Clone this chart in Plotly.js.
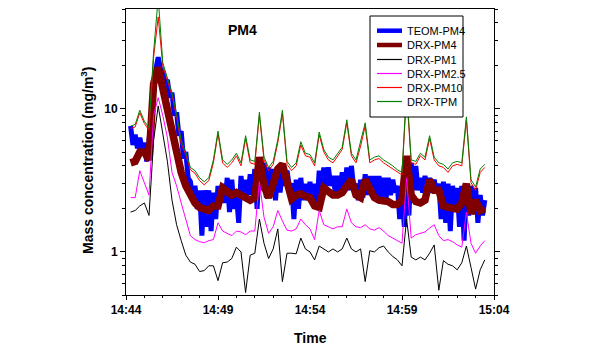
<!DOCTYPE html>
<html>
<head>
<meta charset="utf-8">
<script src="https://cdn.plot.ly/plotly-3.0.1.min.js"></script>
<style>
  html, body { margin: 0; padding: 0; background: #ffffff; }
  #chart { width: 613px; height: 352px; }
</style>
</head>
<body>
<div id="chart"></div>
<script>
// ---- Data ----
// DRX samples every 15 s, TEOM samples every 7.5 s, both starting 14:44:15
const sampleStart = '14:44:15';
const drxStepSeconds = 15;
const teomStepSeconds = 7.5;

const seriesNames = ['TEOM-PM4', 'DRX-PM4', 'DRX-PM1', 'DRX-PM2.5', 'DRX-PM10', 'DRX-TPM'];

const teomPM4 = [
  7.6, 5.6, 6.6, 5.3, 6.3, 5.2, 5.8, 4.3, 6.0, 9.0, 14, 19, 23, 19, 18, 15,
  16, 12, 13, 9.0, 9.5, 6.5, 7.0, 4.5, 5.0, 3.3, 3.1, 2.4, 2.9, 2.0, 2.7, 1.3,
  2.7, 1.5, 2.7, 1.4, 2.6, 1.7, 2.9, 2.2, 3.0, 2.2, 3.3, 1.9, 3.2, 2.0, 2.5, 1.6,
  3.4, 2.4, 3.2, 2.5, 3.5, 2.5, 3.8, 2.0, 4.2, 2.7, 4.2, 2.4, 3.9, 2.7, 3.8, 2.3,
  3.7, 2.6, 3.7, 2.9, 3.7, 2.9, 3.0, 1.7, 3.2, 2.0, 3.3, 2.3, 3.0, 2.3, 3.1, 2.2,
  3.0, 2.1, 3.7, 2.7, 3.9, 2.9, 3.9, 2.9, 3.4, 2.6, 3.4, 2.6, 3.6, 2.7, 3.9, 2.7,
  4.0, 2.8, 3.0, 2.3, 3.2, 2.4, 3.5, 2.5, 3.4, 2.5, 3.4, 2.3, 3.4, 2.4, 3.3, 2.3,
  3.3, 2.5, 3.2, 2.6, 2.9, 1.7, 2.9, 1.5, 3.0, 1.8, 4.2, 2.7, 4.0, 2.7, 3.3, 2.6,
  3.4, 2.7, 3.3, 2.6, 3.2, 2.6, 3.0, 1.7, 3.1, 1.6, 3.0, 1.4, 2.9, 1.9, 2.8, 1.5,
  2.9, 1.2, 2.9, 1.8, 2.9, 1.9, 2.8, 1.6, 2.5, 1.8, 2.3
];

const drxPM4 = [
  4.2, 4.3, 5.0, 5.0, 4.4, 15, 19.5, 14,
  10.5, 7.6, 4.8, 3.6, 2.9, 2.45, 2.2, 2.05,
  2.0, 1.95, 2.1, 2.1, 2.8, 2.6, 2.5, 2.6,
  2.5, 2.35, 2.3, 2.4, 4.6, 2.9, 2.4, 3.0,
  3.8, 4.1, 3.0, 2.35, 2.5, 2.55, 2.45, 2.4,
  2.1, 2.05, 2.8, 2.6, 2.5, 2.5, 2.6, 2.9,
  3.2, 2.5, 2.4, 3.2, 2.7, 2.4, 2.3, 2.3,
  2.25, 2.15, 2.15, 2.3, 4.7, 2.5, 2.25, 2.2,
  2.3, 3.2, 2.7, 2.7, 2.1, 2.05, 2.0, 2.0,
  2.2, 3.0, 1.85, 2.3, 1.95, 2.0
];

const drxPM1 = [
  1.9, 1.95, 2.1, 2.2, 1.8, 6.0, 10.5, 6.5,
  4.3, 2.3, 1.55, 1.2, 0.95, 0.85, 0.82, 0.73,
  0.74, 0.8, 0.8, 0.63, 0.84, 0.85, 0.9, 1.08,
  1.0, 0.52, 0.95, 0.98, 1.7, 1.15, 0.9, 1.05,
  1.45, 0.62, 0.98, 0.98, 0.97, 1.25, 1.05, 1.0,
  0.88, 1.1, 1.05, 1.0, 1.05, 1.0, 1.05, 1.25,
  1.05, 1.0, 1.05, 0.62, 1.02, 1.0, 1.07, 1.1,
  1.0, 0.93, 0.88, 0.8, 1.7, 0.92, 0.88, 0.92,
  0.88, 0.98, 1.12, 0.54, 0.87, 0.82, 0.8, 0.75,
  0.84, 1.1, 0.78, 0.55, 0.75, 0.88
];

const drxPM25 = [
  2.4, 2.4, 3.7, 3.0, 2.5, 9.0, 12, 9.0,
  6.3, 3.6, 2.9, 2.2, 1.7, 1.3, 1.22, 1.18,
  1.16, 1.2, 1.22, 1.6, 1.4, 1.35, 1.3, 1.4,
  1.38, 1.32, 1.4, 1.4, 3.1, 1.75, 1.35, 1.5,
  1.95, 1.65, 1.42, 1.4, 1.45, 1.7, 1.55, 1.45,
  1.22, 1.95, 1.55, 1.5, 1.45, 1.5, 1.5, 2.0,
  1.6, 1.5, 1.48, 1.55, 1.45, 1.42, 1.48, 1.4,
  1.3, 1.25, 1.2, 1.15, 3.3, 1.25, 1.32, 1.35,
  1.38, 1.47, 1.55, 1.3, 1.2, 1.22, 1.18, 1.12,
  1.08, 1.9, 1.15, 0.98, 1.1, 1.2
];

const drxPM10 = [
  7.3, 7.5, 9.4, 7.9, 7.1, 23, 44, 20,
  15.8, 12.4, 8.8, 5.7, 4.8, 3.75, 3.55, 3.15,
  2.95, 3.15, 4.2, 6.7, 4.2, 3.9, 4.2, 4.7,
  4.0, 6.2, 4.2, 4.1, 9.0, 4.4, 3.7, 4.1,
  5.8, 9.3, 4.1, 3.7, 4.0, 5.6, 4.7, 4.6,
  4.0, 6.6, 5.0, 4.4, 4.2, 4.7, 5.2, 8.0,
  4.7, 4.2, 5.5, 7.6, 4.2, 4.4, 4.5, 4.2,
  4.0, 3.8, 3.6, 3.45, 13, 4.2, 4.1, 4.7,
  4.4, 6.2, 4.4, 4.0, 3.9, 3.6, 4.0, 4.1,
  4.0, 8.4, 3.05, 2.7, 3.6, 3.9
];

const drxTPM = [
  7.6, 7.8, 9.8, 8.2, 7.4, 25, 60, 21,
  16.5, 13, 9.2, 6.0, 5.0, 3.9, 3.7, 3.3,
  3.1, 3.3, 4.4, 7.0, 4.4, 4.1, 4.4, 4.9,
  4.2, 6.5, 4.4, 4.3, 9.5, 4.6, 3.9, 4.3,
  6.1, 9.8, 4.3, 3.9, 4.2, 5.9, 4.9, 4.8,
  4.2, 6.9, 5.2, 4.6, 4.4, 4.9, 5.4, 8.4,
  4.9, 4.4, 5.8, 8.0, 4.4, 4.6, 4.7, 4.4,
  4.2, 4.0, 3.75, 3.6, 14, 4.4, 4.3, 4.9,
  4.6, 6.5, 4.6, 4.2, 4.1, 3.8, 4.2, 4.3,
  4.2, 8.8, 3.2, 2.85, 3.8, 4.1
];

const yTickVals = [1, 10];
const yTickText = ['1', '10'];
const yMinorVals = [0.5, 0.6, 0.7, 0.8, 0.9, 2, 3, 4, 5, 6, 7, 8, 9, 20, 30, 40, 50];
const xTickLabels = ['14:44', '14:49', '14:54', '14:59', '15:04'];

// ---- Build timestamps ----
function pad(n) { return (n < 10 ? '0' : '') + n; }
function buildTimes(count, step) {
  const p = sampleStart.split(':').map(Number);
  const s0 = p[0] * 3600 + p[1] * 60 + p[2];
  const out = [];
  for (let i = 0; i < count; i++) {
    const sf = s0 + i * step;
    const s = Math.floor(sf);
    const ms = Math.round((sf - s) * 1000);
    out.push('2000-01-01 ' + pad(Math.floor(s / 3600)) + ':' + pad(Math.floor((s % 3600) / 60)) + ':' +
      pad(s % 60) + '.' + String(ms).padStart(3, '0'));
  }
  return out;
}
const drxTimes = buildTimes(drxTPM.length, drxStepSeconds);
const teomTimes = buildTimes(teomPM4.length, teomStepSeconds);

const styles = [
  { color: '#0000FF', width: 5, legW: 4.5 },
  { color: '#800000', width: 7.5, legW: 4.5 },
  { color: '#000000', width: 1, legW: 1.2 },
  { color: '#FF00FF', width: 1, legW: 1.2 },
  { color: '#FF0000', width: 1, legW: 1.2 },
  { color: '#008000', width: 1, legW: 1.2 }
];
const seriesData = [teomPM4, drxPM4, drxPM1, drxPM25, drxPM10, drxTPM];
const seriesTimes = [teomTimes, drxTimes, drxTimes, drxTimes, drxTimes, drxTimes];

const traces = seriesData.map((ys, i) => ({
  type: 'scatter',
  mode: 'lines',
  name: seriesNames[i],
  x: seriesTimes[i],
  y: ys,
  line: { color: styles[i].color, width: styles[i].width },
  showlegend: false,
  hoverinfo: 'skip'
}));

// ---- Layout geometry (pixels) ----
const W = 613, H = 352;
const M = { l: 126, r: 119, t: 9, b: 57 };
const plotW = W - M.l - M.r, plotH = H - M.t - M.b;
const px = x => (x - M.l) / plotW;
const py = y => (H - M.b - y) / plotH;

const FONT = 'Arial, "Liberation Sans", sans-serif';

const shapes = [];
const annotations = [];

// custom legend box
shapes.push({
  type: 'rect', xref: 'paper', yref: 'paper',
  x0: px(370), x1: px(463), y0: py(117), y1: py(16),
  fillcolor: '#ffffff', line: { color: '#000000', width: 1 }, layer: 'above'
});
const legRowsY = [30.7, 45, 59.5, 73.5, 87.5, 101.5];
seriesNames.forEach((name, i) => {
  shapes.push({
    type: 'line', xref: 'paper', yref: 'paper',
    x0: px(377), x1: px(402), y0: py(legRowsY[i]), y1: py(legRowsY[i]),
    line: { color: styles[i].color, width: styles[i].legW }, layer: 'above'
  });
  annotations.push({
    xref: 'paper', yref: 'paper', x: px(405), y: py(legRowsY[i]),
    xanchor: 'left', yanchor: 'middle', showarrow: false,
    text: name, font: { family: FONT, size: 11, color: '#000000' }
  });
});

// chart label
annotations.push({
  xref: 'paper', yref: 'paper', x: px(242), y: py(30),
  xanchor: 'center', yanchor: 'middle', showarrow: false,
  text: '<b>PM4</b>', font: { family: FONT, size: 14, color: '#000000' }
});
// axis titles
annotations.push({
  xref: 'paper', yref: 'paper', x: px(87), y: py(160),
  xanchor: 'center', yanchor: 'middle', showarrow: false, textangle: -90,
  text: '<b>Mass concentration (mg/m<sup>3</sup>)</b>',
  font: { family: FONT, size: 14, color: '#000000' }
});
annotations.push({
  xref: 'paper', yref: 'paper', x: px(310), y: py(338),
  xanchor: 'center', yanchor: 'middle', showarrow: false,
  text: '<b>Time</b>', font: { family: FONT, size: 14, color: '#000000' }
});

const layout = {
  width: W, height: H,
  margin: M,
  paper_bgcolor: '#ffffff',
  plot_bgcolor: '#ffffff',
  showlegend: false,
  font: { family: FONT, color: '#000000' },
  xaxis: {
    type: 'date',
    range: ['2000-01-01 14:44:00', '2000-01-01 15:04:00'],
    tickmode: 'array',
    tickvals: xTickLabels.map(t => '2000-01-01 ' + t + ':00'),
    ticktext: xTickLabels,
    ticks: 'outside', ticklen: 4, tickwidth: 1, tickcolor: '#000000',
    minor: { dtick: 60000, tick0: '2000-01-01 14:44:00', ticks: 'outside', ticklen: 2, tickwidth: 1, tickcolor: '#000000', showgrid: false },
    showgrid: false, zeroline: false,
    showline: true, linecolor: '#000000', linewidth: 1, mirror: true,
    tickfont: { family: FONT, size: 12, color: '#000000', weight: 'bold' }
  },
  yaxis: {
    type: 'log',
    range: [Math.log10(0.5), Math.log10(50)],
    tickmode: 'array',
    tickvals: yTickVals,
    ticktext: yTickText,
    ticks: 'outside', ticklen: 5, tickwidth: 1, tickcolor: '#000000',
    minor: { tickmode: 'array', tickvals: yMinorVals, ticks: 'outside', ticklen: 3, tickwidth: 1, tickcolor: '#000000', showgrid: false },
    showgrid: false, zeroline: false,
    showline: true, linecolor: '#000000', linewidth: 1, mirror: 'ticks',
    tickfont: { family: FONT, size: 12, color: '#000000', weight: 'bold' }
  },
  shapes: shapes,
  annotations: annotations
};

Plotly.newPlot('chart', traces, layout, { displayModeBar: false, staticPlot: true });
</script>
</body>
</html>
